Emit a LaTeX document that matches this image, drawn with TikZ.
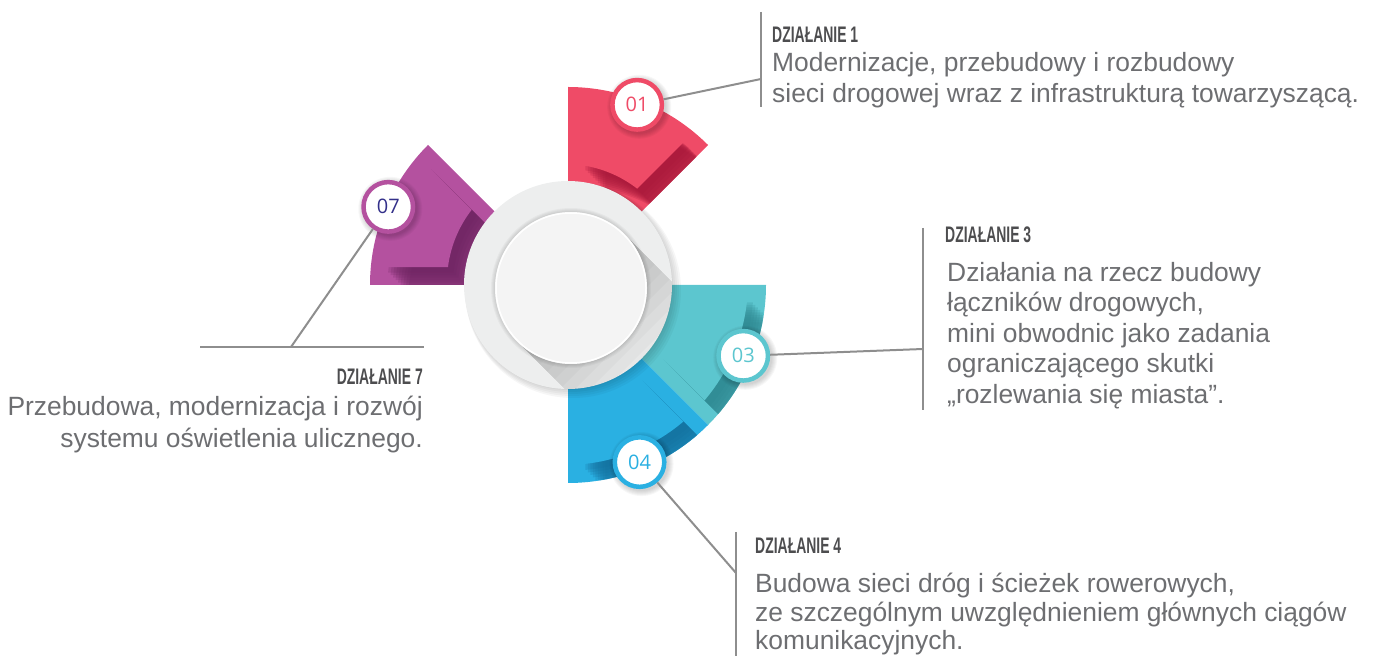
\documentclass[tikz,border=0pt]{standalone}
\usepackage{fontspec}
\setmainfont{Liberation Sans}
\newfontfamily\headfont[FakeStretch=0.62]{Liberation Sans}
\newfontfamily\numfont{Open Sans}
\usetikzlibrary{positioning, calc}

\definecolor{red1}{HTML}{EF4B67}
\definecolor{red2}{HTML}{A8183A}
\definecolor{pur1}{HTML}{B4519F}
\definecolor{pur2}{HTML}{6E2461}
\definecolor{teal1}{HTML}{5CC6CF}
\definecolor{teal2}{HTML}{2E8891}
\definecolor{blue1}{HTML}{2AB0E2}
\definecolor{blue2}{HTML}{14709E}
\definecolor{navy}{HTML}{33308A}
\definecolor{disc}{HTML}{EDEEEE}
\definecolor{face}{HTML}{F4F4F4}
\definecolor{linegray}{HTML}{8E8E8E}
\definecolor{headgray}{HTML}{4D4D4F}
\definecolor{bodygray}{HTML}{6D6E71}

\begin{document}
\begin{tikzpicture}[x=1pt, y=1pt,
    conn/.style={linegray, line width=2},
    badge/.style={circle, fill=white, draw=#1, line width=4.5, minimum size=49.5, inner sep=0,
        font=\numfont\fontsize{20}{20}\selectfont},
    head/.style={inner sep=0, text=headgray, font=\headfont\bfseries\fontsize{22.5}{22.5}\selectfont},
    body/.style={inner sep=0, text=bodygray, font=\fontsize{26.4}{#1}\selectfont}]
    \useasboundingbox (0,0) rectangle (1382,656);

    \begin{scope}[shift={(568,371)}]
    % Quarter sectors with inset panel
    \foreach \a/\b/\main/\dark in {45/90/red1/red2, 135/180/pur1/pur2, -45/0/teal1/teal2, -90/-45/blue1/blue2} {
        \fill[\main] (\a:198) arc[start angle=\a, end angle=\b, radius=198]
            -- (\b:103) arc[start angle=\b, end angle=\a, radius=103] -- cycle;
        \begin{scope}
            \clip (\a:198) arc[start angle=\a, end angle=\b, radius=198]
                -- (\b:103) arc[start angle=\b, end angle=\a, radius=103] -- cycle;
            \foreach \k in {1,...,9}
                \fill[\dark, opacity=0.22, shift={(\k*2.5,-\k*2.5)}]
                    (\a+4.7:183) arc[start angle=\a+4.7, end angle=\b-4.7, radius=183]
                    -- (\b-7.3:118) arc[start angle=\b-7.3, end angle=\a+7.3, radius=118] -- cycle;
        \end{scope}
        \fill[\main, shift={(-3,3)}]
            (\a+4.7:183) arc[start angle=\a+4.7, end angle=\b-4.7, radius=183]
            -- (\b-7.3:118) arc[start angle=\b-7.3, end angle=\a+7.3, radius=118] -- cycle;
    }

    % Disc and long shadow
    \foreach \k in {1,...,5}
        \fill[black, opacity=0.035] (\k,-\k) circle (103+\k);
    \fill[disc] (0,0) circle (104);
    \begin{scope}
        \clip (0,0) circle (104);
        \foreach \k in {1,...,10}
            \fill[black, opacity=0.022] (56.7,50.7) -- (-50.7,-56.7) -- ++(\k*7.5,-\k*7.5)
                -- (56.7+\k*7.5,50.7-\k*7.5) -- cycle;
    \end{scope}
    \foreach \k in {1,...,4}
        \fill[black, opacity=0.03] (3,-3) circle (76+\k);
    \fill[face] (3,-3) circle (76);
    \draw[white, line width=1.5] (3,-3) circle (75);

    % Badge shadows
    \foreach \ang/\r in {69/193, 156.5/196, -22/189, -68/191}
        \foreach \k in {1,...,6}
            \fill[black, opacity=0.03] (\ang:\r) ++(2,-2) circle (26+\k);

    % Badges
    \node[badge=red1, text=red1] (b1) at (69:193) {01};
    \node[badge=pur1, text=navy] (b7) at (156.5:196) {07};
    \node[badge=teal1, text=teal1] (b3) at (-22:189) {03};
    \node[badge=blue1, text=blue1] (b4) at (-68:191) {04};
    \end{scope}

    % Leader lines
    \coordinate (t1) at (761,644);
    \coordinate (u1) at (761,549);
    \coordinate (j1) at (761,577);
    \draw[conn] (t1) -- (u1);
    \draw[conn] (b1) -- (j1);

    \coordinate (t3) at (923,428);
    \coordinate (u3) at (923,246);
    \coordinate (j3) at (923,307);
    \draw[conn] (t3) -- (u3);
    \draw[conn] (b3) -- (j3);

    \coordinate (t4) at (736,124);
    \coordinate (u4) at (736,-10);
    \coordinate (j4) at (736,83);
    \draw[conn] (t4) -- (u4);
    \draw[conn] (b4) -- (j4);

    \coordinate (t7) at (200,309);
    \coordinate (u7) at (424,309);
    \coordinate (j7) at (291,309);
    \draw[conn] (t7) -- (u7);
    \draw[conn] (b7) -- (j7);

    % Texts
    \node[head, anchor=base west] (h1) at (772,613) {DZIAŁANIE 1};
    \node[body=31, align=left, anchor=north west] (d1) at (772,604)
        {Modernizacje, przebudowy i rozbudowy\\sieci drogowej wraz z infrastrukturą towarzyszącą.};

    \node[head, anchor=base west] (h3) at (945,413) {DZIAŁANIE 3};
    \node[body=30.5, align=left, anchor=north west] (d3) at (947,394)
        {Działania na rzecz budowy\\łączników drogowych,\\mini obwodnic jako zadania\\ograniczającego skutki\\„rozlewania się miasta”.};

    \node[head, anchor=base west] (h4) at (755,102) {DZIAŁANIE 4};
    \node[body=28.5, align=left, anchor=north west] (d4) at (755,83)
        {Budowa sieci dróg i ścieżek rowerowych,\\ze szczególnym uwzględnieniem głównych ciągów\\komunikacyjnych.};

    \node[head, anchor=base east] (h7) at (423,271) {DZIAŁANIE 7};
    \node[body=32, align=right, anchor=north east] (d7) at (423,260)
        {Przebudowa, modernizacja i rozwój\\systemu oświetlenia ulicznego.};
\end{tikzpicture}
\end{document}
